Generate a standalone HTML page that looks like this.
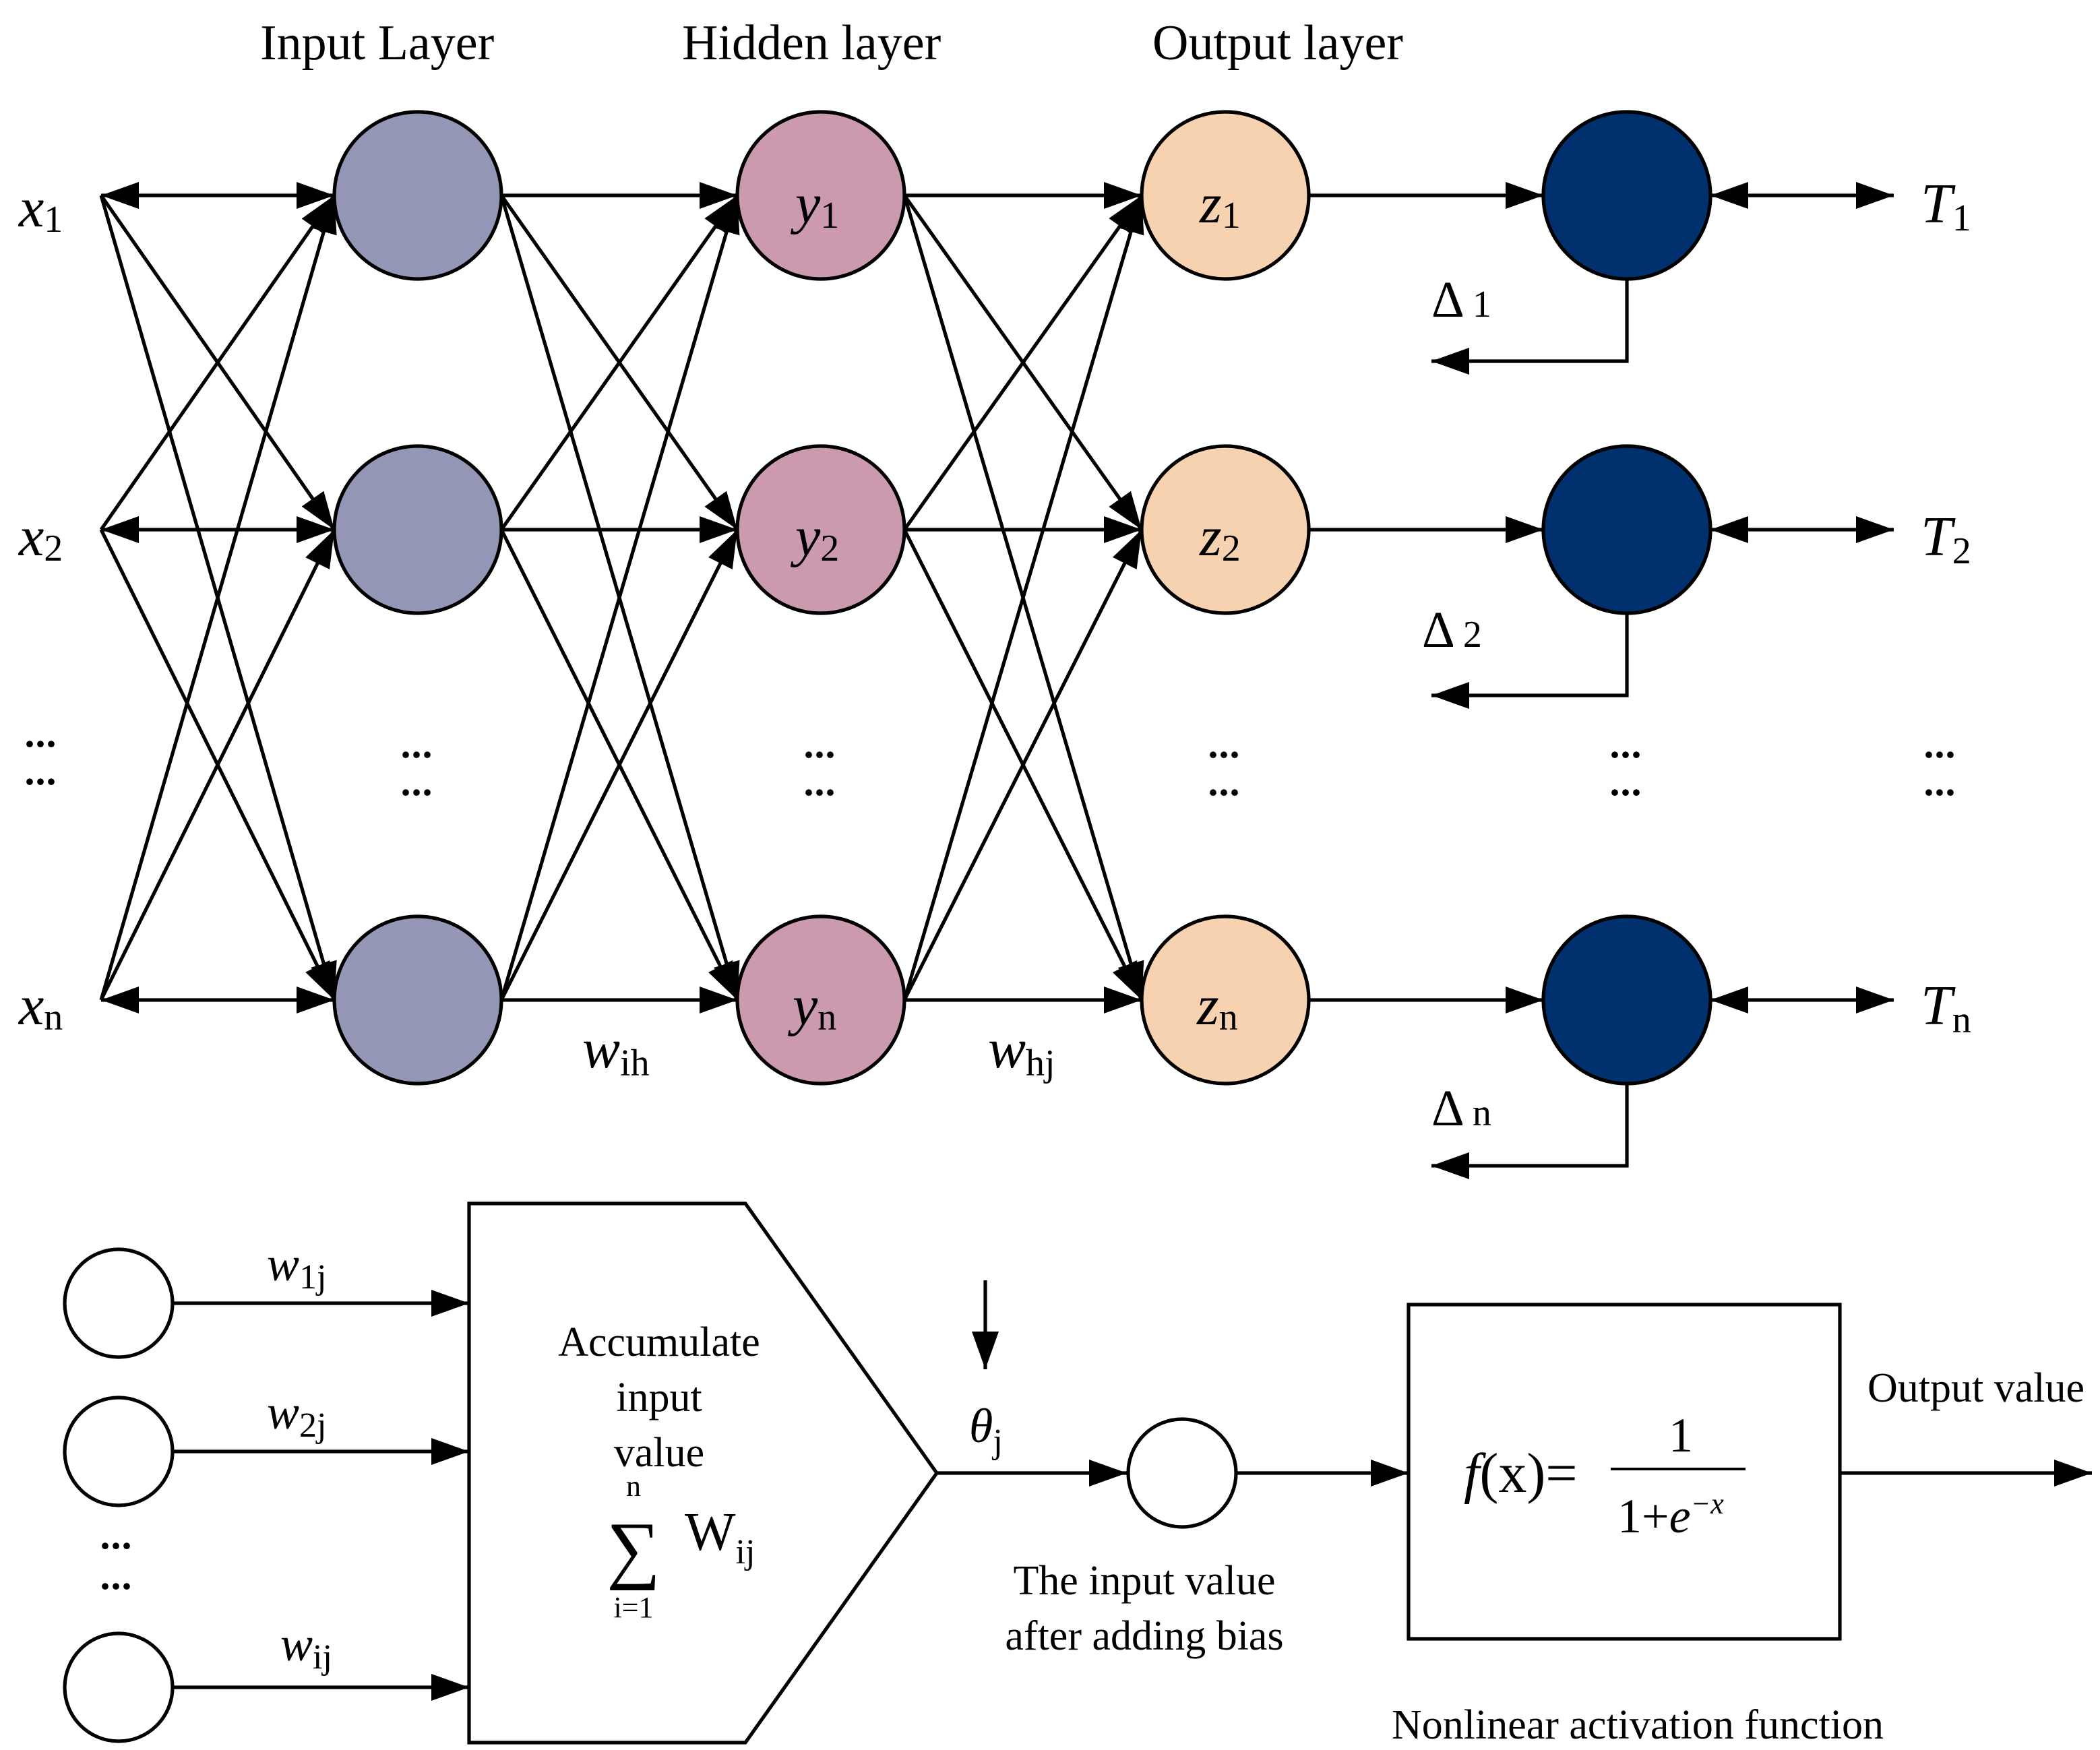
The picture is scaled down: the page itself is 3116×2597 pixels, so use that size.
<!DOCTYPE html>
<html><head><meta charset="utf-8"><style>
html,body{margin:0;padding:0;background:#fff;}
svg{display:block;}
text{font-family:"Liberation Serif",serif;fill:#000;}
.it{font-style:italic;}
</style></head><body>
<svg id="s" width="3116" height="2597" viewBox="0 0 1558 1298.5" xmlns="http://www.w3.org/2000/svg">
<defs>
<marker id="a" markerUnits="userSpaceOnUse" markerWidth="30" markerHeight="22" refX="28" refY="10" orient="auto"><path d="M0,0 L28,10 L0,20 Z" fill="#000"/></marker>
<marker id="b" markerUnits="userSpaceOnUse" markerWidth="30" markerHeight="22" refX="0" refY="10" orient="auto"><path d="M28,0 L0,10 L28,20 Z" fill="#000"/></marker>
</defs>
<g id="lines" stroke="#000" stroke-width="2.6" fill="none"></g>
<g id="nodes" stroke="#000" stroke-width="2.6"></g>

<g font-size="37">
<text x="193" y="44">Input Layer</text>
<text x="506" y="44">Hidden layer</text>
<text x="855" y="44">Output layer</text>
</g>
<g font-size="42">
<text x="14" y="168" class="it">x<tspan font-size="28" font-style="normal" dy="4">1</tspan></text>
<text x="14" y="412" class="it">x<tspan font-size="28" font-style="normal" dy="4">2</tspan></text>
<text x="14" y="760" class="it">x<tspan font-size="28" font-style="normal" dy="4">n</tspan></text>
<text x="590" y="165" class="it">y<tspan font-size="28" font-style="normal" dy="4">1</tspan></text>
<text x="590" y="412" class="it">y<tspan font-size="28" font-style="normal" dy="4">2</tspan></text>
<text x="588" y="760" class="it">y<tspan font-size="28" font-style="normal" dy="4">n</tspan></text>
<text x="890" y="165" class="it">z<tspan font-size="28" font-style="normal" dy="4">1</tspan></text>
<text x="890" y="412" class="it">z<tspan font-size="28" font-style="normal" dy="4">2</tspan></text>
<text x="888" y="760" class="it">z<tspan font-size="28" font-style="normal" dy="4">n</tspan></text>
<text x="1425" y="165" class="it">T<tspan font-size="28" font-style="normal" dy="6">1</tspan></text>
<text x="1425" y="412" class="it">T<tspan font-size="28" font-style="normal" dy="6">2</tspan></text>
<text x="1425" y="760" class="it">T<tspan font-size="28" font-style="normal" dy="6">n</tspan></text>
<text x="432" y="792" class="it">w<tspan font-size="28" font-style="normal" dy="6">ih</tspan></text>
<text x="733" y="792" class="it">w<tspan font-size="28" font-style="normal" dy="6">hj</tspan></text>
</g>
<g font-size="38">
<text x="1062" y="235">Δ<tspan font-size="28" dx="6">1</tspan></text>
<text x="1055" y="480">Δ<tspan font-size="28" dx="6">2</tspan></text>
<text x="1062" y="835">Δ<tspan font-size="28" dx="6">n</tspan></text>
</g>
<g font-size="30" font-weight="bold" letter-spacing="-2">
<text x="17" y="562">···</text><text x="17" y="590">···</text>
<text x="296" y="570">···</text><text x="296" y="598">···</text>
<text x="595" y="570">···</text><text x="595" y="598">···</text>
<text x="895" y="570">···</text><text x="895" y="598">···</text>
<text x="1193" y="570">···</text><text x="1193" y="598">···</text>
<text x="1426" y="570">···</text><text x="1426" y="598">···</text>
<text x="73" y="1157">···</text><text x="73" y="1187">···</text>
</g>

<!-- bottom -->
<g stroke="#000" stroke-width="2.6" fill="none">
<circle cx="88" cy="967" r="40" fill="#fff"/>
<circle cx="88" cy="1077" r="40" fill="#fff"/>
<circle cx="88" cy="1252" r="40" fill="#fff"/>
<line x1="128" y1="967" x2="348" y2="967" marker-end="url(#a)"/>
<line x1="128" y1="1077" x2="348" y2="1077" marker-end="url(#a)"/>
<line x1="128" y1="1252" x2="348" y2="1252" marker-end="url(#a)"/>
<path d="M348,893 L553,893 L695,1093 L553,1293 L348,1293 Z"/>
<line x1="695" y1="1093" x2="836" y2="1093" marker-end="url(#a)"/>
<line x1="731" y1="950" x2="731" y2="1016" marker-end="url(#a)"/>
<circle cx="877" cy="1093" r="40" fill="#fff"/>
<line x1="917" y1="1093" x2="1045" y2="1093" marker-end="url(#a)"/>
<rect x="1045" y="968" width="320" height="248"/>
<line x1="1365" y1="1093" x2="1552" y2="1093" marker-end="url(#a)"/>
<line x1="1195" y1="1090" x2="1295" y2="1090" stroke-width="2"/>
</g>
<g font-size="36">
<text x="198" y="950" class="it">w<tspan font-size="26" font-style="normal" dy="6">1j</tspan></text>
<text x="198" y="1060" class="it">w<tspan font-size="26" font-style="normal" dy="6">2j</tspan></text>
<text x="208" y="1232" class="it">w<tspan font-size="26" font-style="normal" dy="6">ij</tspan></text>
<text x="719" y="1070" class="it">θ<tspan font-size="26" font-style="normal" dy="8">j</tspan></text>
</g>
<g font-size="31" text-anchor="middle">
<text x="489" y="1006">Accumulate</text>
<text x="489" y="1047">input</text>
<text x="489" y="1088">value</text>
<text x="470" y="1110" font-size="22">n</text>
<text x="470" y="1200" font-size="22">i=1</text>
<text x="849" y="1183">The input value</text>
<text x="849" y="1224">after adding bias</text>
<text x="1215" y="1290">Nonlinear activation function</text>
<text x="1466" y="1040">Output value</text>
</g>
<text x="470" y="1168" font-size="56" text-anchor="middle">∑</text>
<text x="508" y="1150" font-size="40">W<tspan font-size="26" dy="10">ij</tspan></text>
<text x="1086" y="1107" font-size="42"><tspan class="it">f</tspan>(x)=</text>
<text x="1247" y="1077" font-size="36" text-anchor="middle">1</text>
<text x="1200" y="1137" font-size="36">1+<tspan class="it">e</tspan><tspan font-size="22" dy="-14" class="it">−x</tspan></text>

<script>
const NS="http://www.w3.org/2000/svg";
const L=document.getElementById('lines'),N=document.getElementById('nodes');
const ys=[145,393,742],R=62;
function ln(x1,y1,x2,y2,end,start){const e=document.createElementNS(NS,'line');e.setAttribute('x1',x1);e.setAttribute('y1',y1);e.setAttribute('x2',x2);e.setAttribute('y2',y2);if(end)e.setAttribute('marker-end','url(#a)');if(start)e.setAttribute('marker-start','url(#b)');L.appendChild(e);}
function circ(cx,cy,r,f){const e=document.createElementNS(NS,'circle');e.setAttribute('cx',cx);e.setAttribute('cy',cy);e.setAttribute('r',r);e.setAttribute('fill',f);N.appendChild(e);}
for(const y0 of ys)for(const y1 of ys){ln(75,y0,310-R,y1,true,y0==y1);}
for(const [ax,bx] of [[310,609],[609,909]])for(const y0 of ys)for(const y1 of ys){ln(ax+R,y0,bx-R,y1,true);}
for(const y of ys){ln(971,y,1145,y,true);ln(1269,y,1405,y,true,true);
 const p=document.createElementNS(NS,'path');p.setAttribute('d',`M1207,${y+R} L1207,${y+123} L1062,${y+123}`);p.setAttribute('marker-end','url(#a)');L.appendChild(p);}
for(const y of ys){circ(310,y,R,'#9396b5');circ(609,y,R,'#cc9aae');circ(909,y,R,'#f6d2b0');circ(1207,y,R,'#00306e');}
</script>
</svg>
</body></html>
